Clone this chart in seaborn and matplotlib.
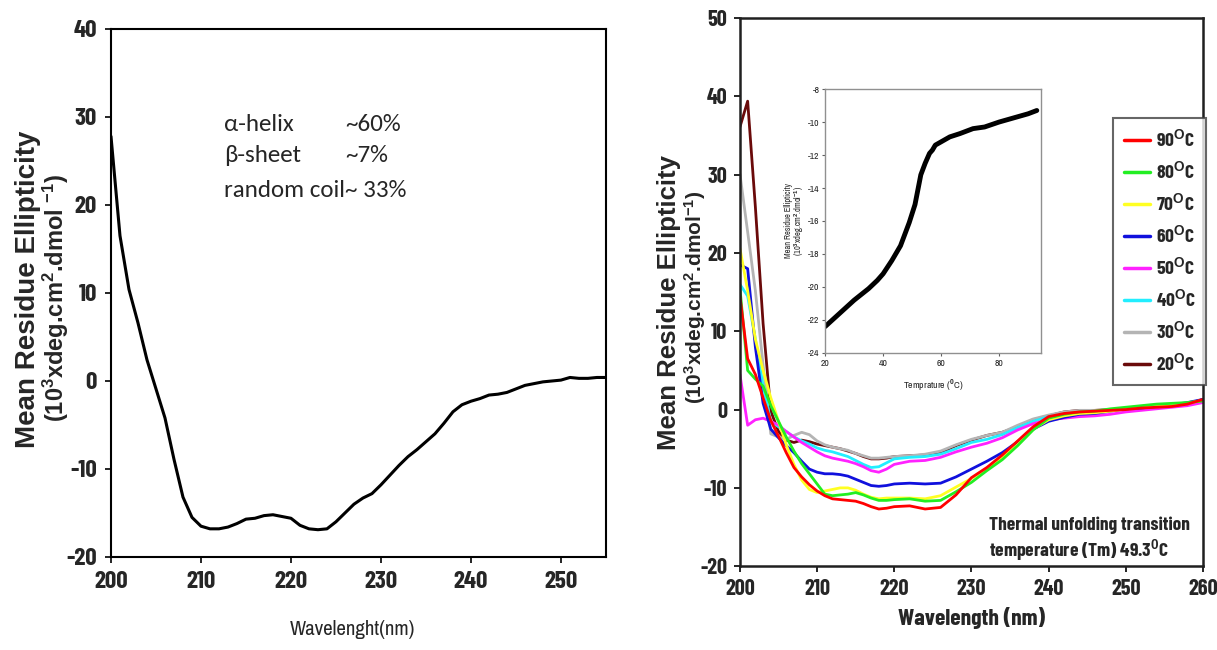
import numpy as np
import pandas as pd
import seaborn as sns
import matplotlib.pyplot as plt
from matplotlib.lines import Line2D

# ---------------- data ----------------
# Far-UV CD spectrum (left panel)
wl_native = [200, 201, 202, 203, 204, 205, 206, 207, 208, 209, 210, 211, 212, 213, 214,
             215, 216, 217, 218, 219, 220, 221, 222, 223, 224, 225, 226, 227, 228, 229,
             230, 231, 232, 233, 234, 235, 236, 237, 238, 239, 240, 241, 242, 243, 244,
             245, 246, 247, 248, 249, 250, 251, 252, 253, 254, 255]
mre_native = [27.8, 16.5, 10.4, 6.6, 2.4, -0.9, -4.2, -8.9, -13.2, -15.5, -16.5, -16.8, -16.8,
              -16.6, -16.2, -15.7, -15.6, -15.3, -15.2, -15.4, -15.6, -16.4, -16.8, -16.9,
              -16.8, -16.0, -15.0, -14.0, -13.3, -12.8, -11.8, -10.7, -9.6, -8.6, -7.8, -6.9,
              -6.0, -4.8, -3.5, -2.7, -2.3, -2.0, -1.6, -1.5, -1.3, -0.9, -0.5, -0.3, -0.1,
              0.0, 0.1, 0.4, 0.3, 0.3, 0.4, 0.4]

# Temperature series (right panel)
wl_temp = [200, 201, 202, 203, 204, 205, 206, 207, 208, 209, 210, 211, 212, 213, 214, 215,
           216, 217, 218, 219, 220, 222, 224, 226, 228, 230, 232, 234, 236, 238, 240, 242,
           244, 246, 248, 250, 252, 254, 256, 258, 260]
temps = ["90", "80", "70", "60", "50", "40", "30", "20"]
mre_90 = [14.5, 6.5, 4.5, 1.5, -1.4, -3.4, -5.5, -7.4, -8.6, -9.6, -10.4, -11.0, -11.4, -11.5,
          -11.6, -11.7, -12.0, -12.4, -12.7, -12.6, -12.4, -12.3, -12.7, -12.5, -10.9, -8.7,
          -7.4, -5.8, -4.0, -2.2, -0.9, -0.5, -0.3, -0.2, -0.1, 0.0, 0.2, 0.3, 0.4, 0.7, 1.3]
mre_80 = [15.5, 5.0, 3.9, 3.0, 0.5, -1.5, -3.5, -5.3, -6.9, -8.2, -9.5, -10.8, -11.0, -10.9,
          -10.8, -10.6, -10.9, -11.3, -11.6, -11.6, -11.5, -11.4, -11.7, -11.6, -10.5, -9.3,
          -7.8, -6.4, -4.6, -2.6, -1.1, -0.6, -0.3, -0.2, 0.1, 0.3, 0.5, 0.7, 0.8, 0.9, 1.1]
mre_70 = [20.6, 15.2, 9.0, 5.0, 1.5, -1.5, -4.5, -7.0, -9.0, -10.2, -10.6, -10.4, -10.2, -10.0,
          -10.0, -10.3, -10.8, -11.2, -11.4, -11.3, -11.3, -11.3, -11.4, -11.0, -9.9, -8.8,
          -7.5, -6.1, -4.5, -2.5, -1.3, -0.8, -0.5, -0.4, -0.2, 0.1, 0.3, 0.5, 0.6, 0.8, 1.2]
mre_60 = [18.5, 18.0, 8.0, 0.8, -2.5, -3.6, -4.6, -5.5, -6.6, -7.6, -8.0, -8.2, -8.2, -8.3,
          -8.5, -8.9, -9.3, -9.7, -9.8, -9.7, -9.5, -9.4, -9.5, -9.4, -8.6, -7.6, -6.6, -5.5,
          -4.1, -2.5, -1.5, -1.0, -0.6, -0.5, -0.2, 0.1, 0.2, 0.4, 0.6, 0.9, 1.3]
mre_50 = [4.5, -2.0, -1.3, -1.1, -1.5, -2.0, -2.8, -3.5, -4.2, -4.8, -5.4, -5.9, -6.2, -6.4,
          -6.6, -6.9, -7.3, -7.8, -8.0, -7.6, -7.0, -6.6, -6.5, -6.1, -5.4, -4.8, -4.3, -3.6,
          -2.6, -1.8, -1.3, -1.1, -0.9, -0.8, -0.6, -0.3, -0.1, 0.1, 0.3, 0.5, 0.9]
mre_40 = [16.0, 14.5, 9.0, 3.0, -1.5, -2.2, -2.8, -3.5, -4.0, -4.4, -4.9, -5.2, -5.4, -5.7,
          -6.0, -6.5, -7.0, -7.4, -7.3, -6.8, -6.3, -6.1, -6.0, -5.7, -5.0, -4.2, -3.8, -3.2,
          -2.3, -1.5, -0.9, -0.6, -0.4, -0.3, -0.1, 0.1, 0.2, 0.4, 0.5, 0.8, 1.1]
mre_30 = [30.1, 22.7, 15.2, 5.7, -3.1, -3.5, -3.8, -3.3, -2.9, -3.2, -4.0, -4.5, -4.8, -5.0,
          -5.2, -5.6, -5.9, -6.2, -6.2, -6.1, -6.0, -5.9, -5.7, -5.3, -4.5, -3.8, -3.3, -2.9,
          -2.0, -1.2, -0.7, -0.3, -0.1, -0.1, 0.0, 0.0, 0.2, 0.3, 0.5, 0.7, 1.2]
mre_20 = [36.1, 39.4, 25.9, 11.0, -0.2, -2.8, -3.9, -4.2, -3.9, -4.1, -4.4, -4.6, -4.8, -5.0,
          -5.3, -5.6, -6.0, -6.3, -6.3, -6.2, -6.0, -5.9, -5.8, -5.5, -4.6, -3.9, -3.3, -2.9,
          -2.2, -1.3, -0.8, -0.3, -0.1, -0.1, 0.0, 0.0, 0.2, 0.3, 0.5, 0.7, 1.3]
temp_colors = ["#ff0000", "#22ee22", "#ffff22", "#1010dd", "#ff22ff", "#22eeff", "#b4b4b4", "#6a0a0a"]

# Thermal melt (inset)
melt_temp = [20, 25, 30, 35, 38, 40, 43, 46, 49, 51, 52, 53, 54.5, 56, 57, 58, 60, 63, 66.5,
             71, 75, 80, 86, 90, 93]
melt_mre = [-22.4, -21.6, -20.8, -20.1, -19.6, -19.2, -18.4, -17.5, -16.1, -15.0, -14.1,
            -13.2, -12.5, -11.9, -11.7, -11.4, -11.2, -10.9, -10.7, -10.4, -10.3, -10.0,
            -9.7, -9.5, -9.3]

# ---------------- style ----------------
sns.set_theme(style="white")
NARROW_BOLD = ["Barlow Condensed", "PT Sans Narrow", "IBM Plex Sans Condensed",
               "Roboto Condensed", "Archivo Narrow", "Liberation Sans", "DejaVu Sans"]
NARROW = ["Archivo Narrow", "PT Sans Narrow", "Liberation Sans", "DejaVu Sans"]
ARIAL = ["Arial", "Liberation Sans", "Arimo", "DejaVu Sans"]
CALIBRI = ["Calibri", "Carlito", "Open Sans", "DejaVu Sans"]
plt.rcParams["font.family"] = NARROW_BOLD
plt.rcParams["font.weight"] = "bold"
plt.rcParams["axes.unicode_minus"] = False
plt.rcParams["mathtext.fontset"] = "custom"
plt.rcParams["mathtext.rm"] = "Liberation Sans:bold"
plt.rcParams["mathtext.bf"] = "Liberation Sans:bold"
plt.rcParams["mathtext.it"] = "Liberation Sans:bold"
plt.rcParams["mathtext.default"] = "rm"

fig = plt.figure(figsize=(12.17, 6.5), dpi=100)

# ---------------- left panel ----------------
ax1 = fig.add_axes([0.0912, 0.1431, 0.4067, 0.8123])
df_native = pd.DataFrame({"wl": wl_native, "mre": mre_native})
sns.lineplot(data=df_native, x="wl", y="mre", ax=ax1, color="black", linewidth=2.2)
ax1.set_xlim(200, 255)
ax1.set_ylim(-20, 40)
ax1.set_xticks([200, 210, 220, 230, 240, 250])
ax1.set_yticks([-20, -10, 0, 10, 20, 30, 40])
ax1.set_xlabel("")
ax1.set_ylabel("")
for s in ax1.spines.values():
    s.set_color("black")
    s.set_linewidth(1.5)
ax1.tick_params(axis="both", direction="out", length=4, width=1.2, color="black",
                labelsize=18, pad=6, bottom=True, left=True)
fig.text(0.29, 0.017, "Wavelenght(nm)", ha="center", va="bottom", fontsize=15,
         fontweight="normal", family=NARROW)
fig.text(0.023, 0.555, "Mean Residue Ellipticity", rotation=90, ha="center", va="center",
         fontsize=20, fontweight="bold", family=ARIAL)
fig.text(0.046, 0.542, r"(10$^{3}$xdeg.cm$^{2}$.dmol $^{-1}$)", rotation=90, ha="center",
         va="center", fontsize=17, fontweight="bold", family=ARIAL)

comp_font = dict(fontsize=18, family=CALIBRI, fontweight="normal", va="center")
ax1.text(212.6, 29.1, "α-helix", **comp_font)
ax1.text(226.0, 29.1, "~60%", **comp_font)
ax1.text(212.6, 25.6, "β-sheet", **comp_font)
ax1.text(226.0, 25.6, "~7%", **comp_font)
ax1.text(212.6, 21.7, "random coil~ 33%", **comp_font)

# ---------------- right panel ----------------
ax2 = fig.add_axes([0.608, 0.129, 0.3804, 0.843])
rows = []
series = [mre_90, mre_80, mre_70, mre_60, mre_50, mre_40, mre_30, mre_20]
for t, vals in zip(temps, series):
    for w, v in zip(wl_temp, vals):
        rows.append({"wl": w, "mre": v, "temp": t})
df_temp = pd.DataFrame(rows)
# coolest traces drawn first so the red (90 °C) trace stays on top
sns.lineplot(data=df_temp, x="wl", y="mre", hue="temp", hue_order=temps[::-1],
             palette=dict(zip(temps, temp_colors)), ax=ax2, linewidth=2.0, legend=False)
ax2.set_xlim(200, 260)
ax2.set_ylim(-20, 50)
ax2.set_xticks([200, 210, 220, 230, 240, 250, 260])
ax2.set_yticks([-20, -10, 0, 10, 20, 30, 40, 50])
ax2.set_xlabel("Wavelength (nm)", fontsize=17, fontweight="bold", labelpad=6)
ax2.set_ylabel("")
for s in ax2.spines.values():
    s.set_color("#202020")
    s.set_linewidth(1.8)
ax2.tick_params(axis="both", direction="out", length=4, width=1.2, color="black",
                labelsize=16, pad=5, bottom=True, left=True)
fig.text(0.5495, 0.534, "Mean Residue Ellipticity", rotation=90, ha="center", va="center",
         fontsize=18.5, fontweight="bold", family=ARIAL)
fig.text(0.5715, 0.543, r"(10$^{3}$xdeg.cm$^{2}$.dmol$^{-1}$)", rotation=90, ha="center",
         va="center", fontsize=15, fontweight="bold", family=ARIAL)

handles = [Line2D([], [], color=c, linewidth=2.5) for c in temp_colors]
labels = [f"{t}" + r"$^{\mathrm{O}}$C" for t in temps]
leg = ax2.legend(handles, labels, loc="upper left", bbox_to_anchor=(0.806, 0.818),
                 frameon=True, fancybox=False, prop={"size": 14, "weight": "bold"},
                 labelspacing=0.52, handlelength=1.35, handletextpad=0.3,
                 borderpad=0.55, borderaxespad=0)
leg.get_frame().set_edgecolor("#404040")
leg.get_frame().set_linewidth(1.5)

ax2.text(232.3, -14.8, "Thermal unfolding transition", fontsize=14, fontweight="bold",
         va="center")
ax2.text(232.3, -17.9, r"temperature (Tm) 49.3$^{0}$C", fontsize=14, fontweight="bold",
         va="center")

# ---------------- inset: thermal melt ----------------
ax3 = fig.add_axes([0.678, 0.457, 0.1775, 0.406])
df_melt = pd.DataFrame({"T": melt_temp, "mre": melt_mre})
sns.lineplot(data=df_melt, x="T", y="mre", ax=ax3, color="black", linewidth=3.5)
ax3.set_xlim(20, 94.5)
ax3.set_ylim(-24, -8)
ax3.set_xticks([20, 40, 60, 80])
ax3.set_yticks(list(range(-24, -7, 2)))
for s in ax3.spines.values():
    s.set_color("#909090")
    s.set_linewidth(1.0)
ax3.tick_params(axis="both", direction="out", length=2, width=0.8, color="#606060",
                labelsize=7, pad=2, bottom=True, left=True)
for lab in ax3.get_xticklabels() + ax3.get_yticklabels():
    lab.set_fontweight("normal")
    lab.set_family(NARROW)
ax3.set_xlabel(r"Temprature ($^{0}$C)", fontsize=7, fontweight="normal", family=NARROW,
               labelpad=7)
ax3.set_ylabel("Mean Residue Ellipticity\n" + r"(10$^{3}$xdeg.cm$^{2}$.dmol$^{-1}$)",
               fontsize=6, fontweight="normal", family=NARROW, labelpad=2, linespacing=0.9)

fig.savefig("out.png", dpi=100, facecolor="white")
